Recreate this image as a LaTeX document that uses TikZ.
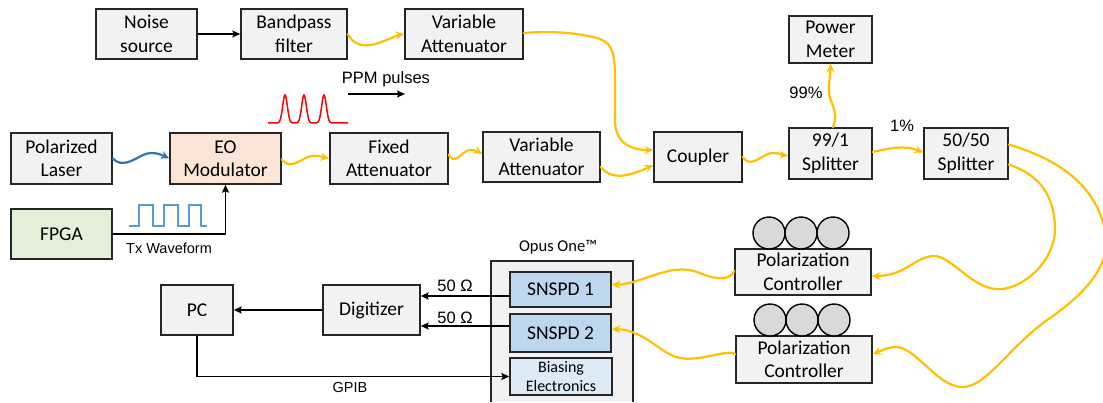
\documentclass[tikz,border=0pt]{standalone}
\usepackage{fontspec}
\setmainfont{Carlito}
\newfontfamily\arialf{Liberation Sans}
\usetikzlibrary{arrows.meta,calc}
\definecolor{boxgray}{HTML}{F2F2F2}
\definecolor{boxline}{HTML}{262626}
\definecolor{fiber}{HTML}{FFC000}
\definecolor{laserblue}{HTML}{2E75B6}
\definecolor{wavblue}{HTML}{5B9BD5}
\definecolor{eofill}{HTML}{FBE5D6}
\definecolor{fpgafill}{HTML}{E2F0D9}
\definecolor{detfill}{HTML}{BDD7EE}
\definecolor{biasfill}{HTML}{DDEBF7}
\definecolor{knobfill}{HTML}{D9D9D9}
\tikzset{
  blk/.style={draw=boxline, line width=1.4pt, fill=boxgray, align=center,
    inner sep=0pt, font=\fontsize{19.5}{23.5}\selectfont},
  fib/.style={draw=fiber, line width=2.2pt, line cap=round,
    -{Stealth[length=9pt,width=8pt,inset=3.5pt]}},
  sig/.style={draw=black, line width=1.5pt,
    -{Stealth[length=8pt,width=7pt,inset=1.5pt]}},
  wire/.style={draw=black, line width=1.5pt},
  lbl/.style={font=\arialf\fontsize{16.5}{19}\selectfont, inner sep=0pt},
  slbl/.style={font=\arialf\fontsize{14.5}{17}\selectfont, inner sep=0pt},
  knob/.style={draw=black, line width=1.4pt, fill=knobfill},
}
\begin{document}
\begin{tikzpicture}[x=1pt,y=-1pt]
\useasboundingbox (0,0) rectangle (1103,402);

% ---- top row: noise branch
\node[blk, minimum width=101pt, minimum height=50pt] (ns) at (146.5,34) {Noise\\source};
\node[blk, minimum width=106pt, minimum height=50pt] (bp) at (294,34) {Bandpass\\filter};
\node[blk, minimum width=118pt, minimum height=50pt] (va1) at (464,34) {Variable\\Attenuator};

% ---- middle row: signal branch
\node[blk, minimum width=101pt, minimum height=51pt] (pl) at (61.5,158.5) {Polarized\\Laser};
\node[blk, fill=eofill, minimum width=111pt, minimum height=51pt] (eo) at (225.5,158.5) {EO\\Modulator};
\node[blk, minimum width=118pt, minimum height=51pt] (fa) at (389,158.5) {Fixed\\Attenuator};
\node[blk, minimum width=117pt, minimum height=50pt] (va2) at (541.5,157) {Variable\\Attenuator};
\node[blk, minimum width=88pt, minimum height=50pt] (cp) at (698,157) {Coupler};
\node[blk, minimum width=83pt, minimum height=51pt] (sp1) at (830.5,153.5) {99/1\\Splitter};
\node[blk, minimum width=83pt, minimum height=47pt] (pm) at (830.5,39.5) {Power\\Meter};
\node[blk, minimum width=84pt, minimum height=51pt] (sp2) at (966,153.5) {50/50\\Splitter};
\node[blk, fill=fpgafill, minimum width=101pt, minimum height=50pt] (fpga) at (61.5,234) {FPGA};

% ---- bottom row: detection
\node[blk, minimum width=72pt, minimum height=50pt] (pc) at (197,310) {PC};
\node[blk, minimum width=97pt, minimum height=50pt] (dig) at (371.5,310) {Digitizer};

% Opus One cryostat enclosure
\fill[boxgray] (491,261) rectangle (633,402);
\draw[boxline, line width=1.4pt] (491,402) -- (491,261) -- (633,261) -- (633,402);
\node[font=\fontsize{16.5}{19}\selectfont, inner sep=0pt] (opus) at (558,247) {Opus One™};
\node[blk, fill=detfill, minimum width=101pt, minimum height=35pt] (s1) at (560.5,289.5) {SNSPD 1};
\node[blk, fill=detfill, minimum width=101pt, minimum height=38pt] (s2) at (560.5,333) {SNSPD 2};
\node[blk, fill=biasfill, minimum width=102pt, minimum height=37pt,
  font=\fontsize{16}{19}\selectfont] (bias) at (561,376.5) {Biasing\\Electronics};

% polarization controllers with their paddles
\node[blk, minimum width=136pt, minimum height=46pt] (pc1) at (803,272) {Polarization\\Controller};
\node[blk, minimum width=136pt, minimum height=47pt] (pc2) at (804,359.5) {Polarization\\Controller};
\foreach \cx in {769,801,833} \draw[knob] (\cx,233) circle (16);
\foreach \cx in {770,802,834} \draw[knob] (\cx,320) circle (16);

% ---- electrical connections
\draw[sig] (ns.east) -- (bp.west);
\draw[sig] (fpga.east) -| (eo.south);
\coordinate (d1) at ($(s1.west)+(0,6.5)$);
\coordinate (d2) at ($(s2.west)+(0,-7)$);
\draw[sig] (d1) -- (d1 -| dig.east);
\draw[sig] (d2) -- (d2 -| dig.east);
\draw[sig] (dig.west) -- (pc.east);
\draw[sig] (pc.south) |- (bias.west);

% ---- free-space / fiber links
\draw[fib, draw=laserblue] (pl.east) .. controls (122,168) and (133,160) .. (143,155)
  .. controls (152,151) and (160,154) .. (eo.west);
\draw[fib] ($(eo.east)+(0,1)$) .. controls (290,170) and (300,160) .. (308,157)
  .. controls (315,154) and (322,157) .. (fa.west);
\draw[fib] ($(fa.east)+(0,-4)$) .. controls (455,167) and (462,150) .. (470,150)
  .. controls (476,150) and (479,152) .. ($(va2.west)+(0,-3)$);
\draw[fib] (bp.east) .. controls (356,50) and (372,46) .. (384,41)
  .. controls (392,38) and (398,35) .. (va1.west);
\draw[fib] ($(va1.east)+(0,-1)$) .. controls (560,30) and (588,35) .. (600,39)
  .. controls (614,44) and (615,58) .. (615,80) -- (615,120)
  .. controls (615,144) and (632,150) .. ($(cp.west)+(0,-7)$);
\draw[fib] ($(va2.east)+(0,10)$) .. controls (612,181) and (630,176) .. ($(cp.west)+(0,8)$);
\draw[fib] (cp.east) .. controls (750,168) and (760,157) .. (768,154)
  .. controls (776,151) and (782,155) .. ($(sp1.west)+(0,2)$);
\draw[fib] ($(sp1.north)+(2.5,0)$) .. controls (840,110) and (828,102) .. (829,90)
  .. controls (829,80) and (830.5,72) .. (pm.south);
\draw[fib] ($(sp1.east)+(0,-1.5)$) .. controls (890,148) and (905,145) .. ($(sp2.west)+(0,-1)$);
\draw[fib] ($(sp2.east)+(0,-9)$) .. controls (1060,160) and (1095,185) .. (1105,230)
  .. controls (1112,262) and (1090,290) .. (1050,318)
  .. controls (1010,345) and (985,390) .. (960,387)
  .. controls (935,384) and (915,346) .. (895,347)
  .. controls (885,348) and (878,352) .. ($(pc2.east)+(0,-5)$);
\draw[fib] ($(sp2.east)+(0,11)$) .. controls (1040,175) and (1053,195) .. (1055,225)
  .. controls (1057,262) and (1020,292) .. (995,289)
  .. controls (970,286) and (950,255) .. (933,256)
  .. controls (915,257) and (905,276) .. ($(pc1.east)+(0,4)$);
\draw[fib] ($(pc1.west)+(0,-1)$) .. controls (728,283) and (712,278) .. (697,272)
  .. controls (670,262) and (640,285) .. ($(s1.east)+(0,-5)$);
\draw[fib] ($(pc2.west)+(0,-5)$) .. controls (730,348) and (700,362) .. (680,358)
  .. controls (660,354) and (645,330) .. ($(s2.east)+(0,-4)$);

% ---- waveform sketches
\draw[wavblue, line width=2pt] (129,226) -- (139,226) -- (139,205) -- (153,205) -- (153,226)
  -- (164,226) -- (164,205) -- (178,205) -- (178,226)
  -- (189,226) -- (189,205) -- (201,205) -- (201,226) -- (207,226);
\draw[red, line width=1.5pt] plot[domain=268:348, samples=241, smooth]
  (\x, {123-28*exp(-min(((\x-285)/3.3)^2,9))-28*exp(-min(((\x-304)/3.3)^2,9))-28*exp(-min(((\x-324)/3.3)^2,9))});
\coordinate (ppmA) at (348,94);
\coordinate (ppmB) at (405,94);
\draw[sig, line width=1.3pt] (ppmA) -- (ppmB);

% ---- labels
\node[lbl] (ppm) at (386,79) {PPM pulses};
\node[slbl] (tx) at (169,248) {Tx Waveform};
\node[slbl] (gpib) at (350,388) {GPIB};
\node[lbl] (p99) at (806,93) {99\%};
\node[lbl] (p1) at (902,126) {1\%};
\node[lbl] (r1) at (455,286) {50 Ω};
\node[lbl] (r2) at (455,318) {50 Ω};
\end{tikzpicture}
\end{document}
